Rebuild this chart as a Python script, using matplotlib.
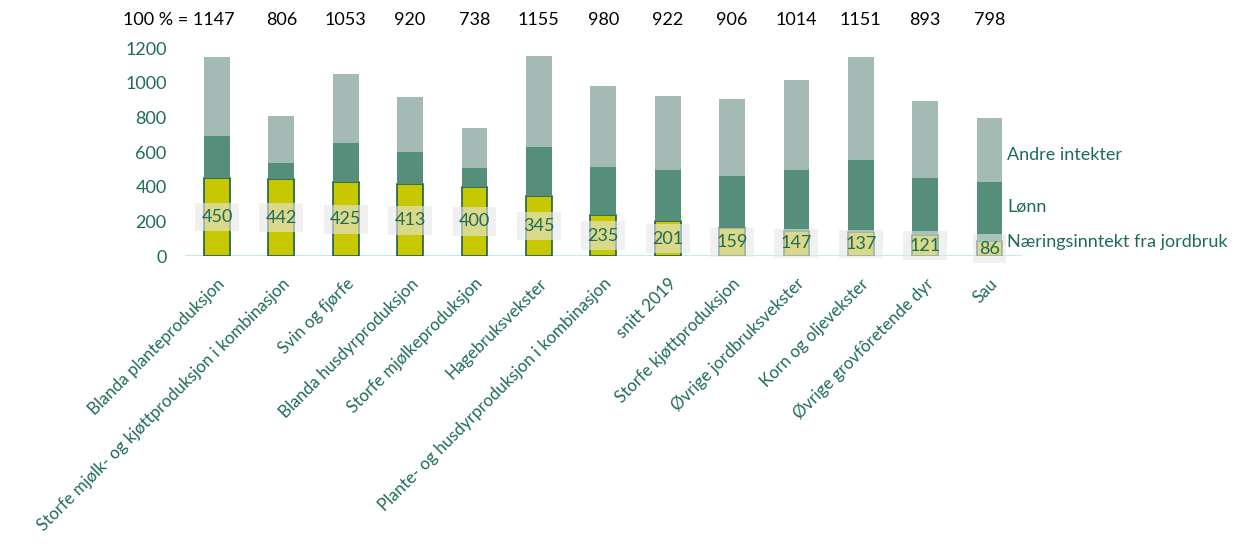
import matplotlib
matplotlib.use("Agg")
import matplotlib.pyplot as plt
import numpy as np

categories = [
    "Blanda planteproduksjon",
    "Storfe mjølk- og kjøttproduksjon i kombinasjon",
    "Svin og fjørfe",
    "Blanda husdyrproduksjon",
    "Storfe mjølkeproduksjon",
    "Hagebruksvekster",
    "Plante- og husdyrproduksjon i kombinasjon",
    "snitt 2019",
    "Storfe kjøttproduksjon",
    "Øvrige jordbruksvekster",
    "Korn og oljevekster",
    "Øvrige grovfôretende dyr",
    "Sau",
]
totals = [1147, 806, 1053, 920, 738, 1155, 980, 922, 906, 1014, 1151, 893, 798]
naering = [450, 442, 425, 413, 400, 345, 235, 201, 159, 147, 137, 121, 86]
lonn = [245, 94, 226, 190, 109, 287, 278, 296, 303, 350, 418, 328, 344]
andre = [t - n - l for t, n, l in zip(totals, naering, lonn)]

TEAL = "#1e6b5c"
YELLOW = "#c8c800"
GREEN = "#558e7b"
GREY = "#a3bab5"

plt.rcParams["font.family"] = ["Lato", "DejaVu Sans"]

fig = plt.figure(figsize=(12.4, 5.5), dpi=100)
ax = fig.add_axes([0.149, 0.5345, 0.675, 0.378])

x = np.arange(len(categories))
w = 0.4
ax.bar(x, naering, w, color=YELLOW, edgecolor="#1f5f50", linewidth=1.2, zorder=2)
ax.bar(x, lonn, w, bottom=naering, color=GREEN, linewidth=0, zorder=2)
bottom2 = [n + l for n, l in zip(naering, lonn)]
ax.bar(x, andre, w, bottom=bottom2, color=GREY, linewidth=0, zorder=2)

ax.axhline(0, color="#a8eee6", lw=1.2, zorder=1)

for xi, n in zip(x, naering):
    ax.text(xi, n / 2, f"{n}", ha="center", va="center", color=TEAL, fontsize=13,
            zorder=3,
            bbox=dict(boxstyle="square,pad=0.35", facecolor="#e6e6e6", alpha=0.6,
                      edgecolor="none"))

# totals above the bars; first one carries the "100 % =" prefix
ax.annotate(f"100 % = {totals[0]}", xy=(x[0], 1365), xytext=(13, 0),
            textcoords="offset points", ha="right", va="center", fontsize=13,
            color="black", annotation_clip=False)
for xi, t in zip(x[1:], totals[1:]):
    ax.text(xi, 1365, f"{t}", ha="center", va="center", color="black", fontsize=13,
            clip_on=False)

# series labels at right
ax.text(12.27, 584, "Andre intekter", ha="left", va="center", color=TEAL, fontsize=13,
        clip_on=False)
ax.text(12.27, 283, "Lønn", ha="left", va="center", color=TEAL, fontsize=13, clip_on=False)
ax.text(12.27, 80, "Næringsinntekt fra jordbruk", ha="left", va="center", color=TEAL,
        fontsize=13, clip_on=False)

ax.set_xlim(-0.5, 12.5)
ax.set_ylim(0, 1200)
ax.set_yticks(range(0, 1201, 200))
ax.tick_params(axis="y", length=0, labelsize=13, labelcolor=TEAL, pad=13)
ax.set_xticks(x)
ax.set_xticklabels(categories, rotation=45, ha="right", rotation_mode="anchor",
                   fontsize=12.2, color=TEAL)
ax.tick_params(axis="x", length=0, pad=14)
for s in ax.spines.values():
    s.set_visible(False)

fig.savefig("out.png", dpi=100)
